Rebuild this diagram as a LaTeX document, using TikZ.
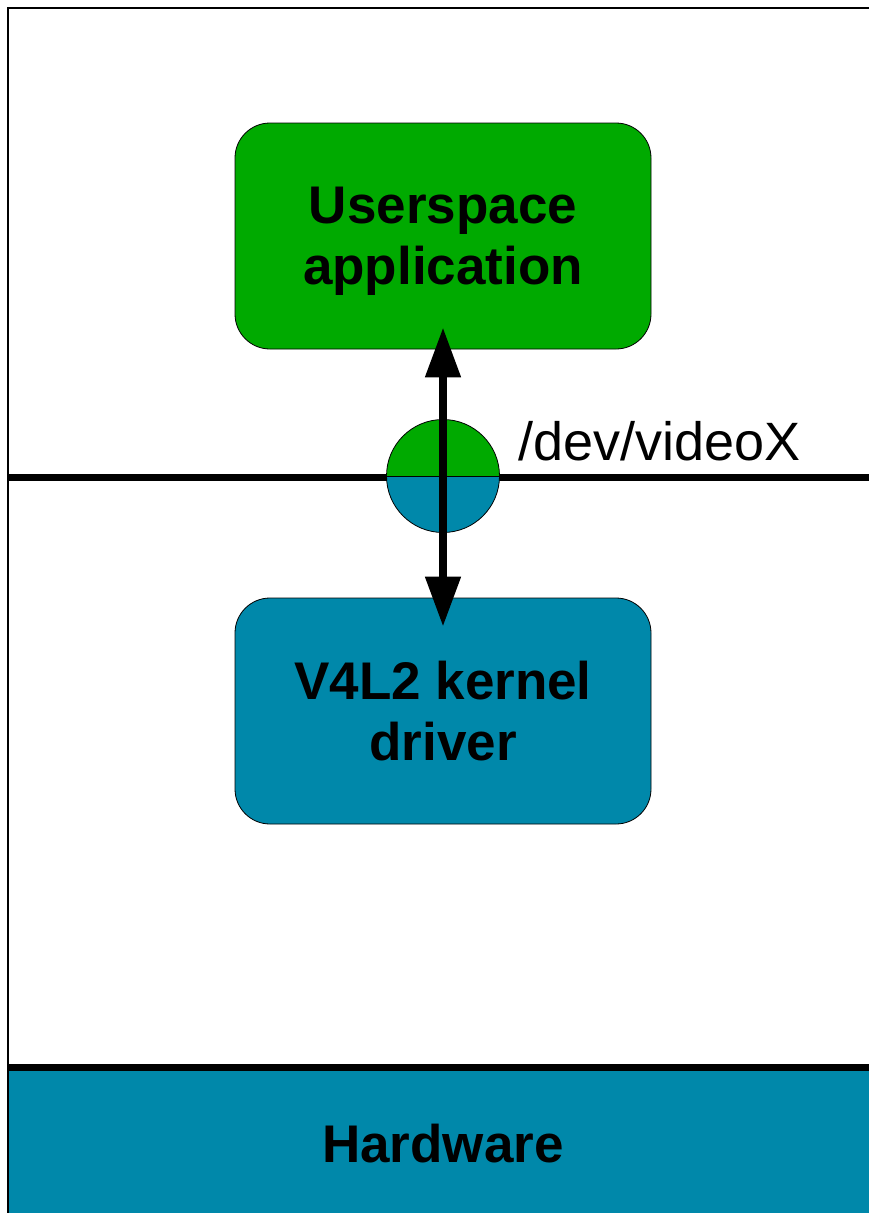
\documentclass[tikz,border=0pt]{standalone}
\usepackage{fontspec}
\setmainfont{Liberation Sans}
\usetikzlibrary{arrows.meta}
\definecolor{appgreen}{RGB}{0,170,0}
\definecolor{kblue}{RGB}{0,136,170}
\begin{document}
\begin{tikzpicture}[x=1pt,y=-1pt,
  boxstyle/.style={draw=black, line width=0.8pt, rounded corners=35pt,
    minimum width=416pt, minimum height=226pt, inner sep=0pt, align=center,
    font=\bfseries\fontsize{53}{61}\selectfont, text depth=0pt},
  bigtext/.style={font=\fontsize{54}{61}\selectfont, inner sep=0pt},
  thickline/.style={line width=7pt},
  bigarrow/.style={line width=8pt,
    {Triangle[length=50pt,width=34pt]}-{Triangle[length=50pt,width=34pt]}}]
\useasboundingbox (0,0) rectangle (869,1213);
% hardware band
\fill[kblue] (8,1071) rectangle (869,1213);
\draw[thickline] (8,1067) -- (869,1067);
\node[bigtext, font=\bfseries\fontsize{53}{61}\selectfont, anchor=base] (hw) at (443,1162) {Hardware};
% frame
\draw[line width=1.3pt] (8,1213) -- (8,8) -- (869,8);
% user/kernel boundary
\draw[thickline] (8,477) -- (869,477);
% boxes
\node[boxstyle, fill=appgreen] (app) at (443,236) {Userspace\\application};
\node[boxstyle, fill=kblue] (drv) at (443,711) {V4L2 kernel\\driver};
% device node circle
\node[circle, draw=black, line width=0.8pt, minimum size=113pt, inner sep=0pt,
  path picture={
    \fill[appgreen] (path picture bounding box.north west) rectangle (path picture bounding box.east);
    \fill[kblue] (path picture bounding box.west) rectangle (path picture bounding box.south east);
    \draw[line width=0.8pt] (path picture bounding box.west) -- (path picture bounding box.east);
  }] (dev) at (443,476) {};
\node[bigtext, anchor=base west] (devlabel) at (518,460) {/dev/videoX};
% arrow
\draw[bigarrow, shorten <=-22pt, shorten >=-29pt] (app.south) -- (drv.north);
\end{tikzpicture}
\end{document}
